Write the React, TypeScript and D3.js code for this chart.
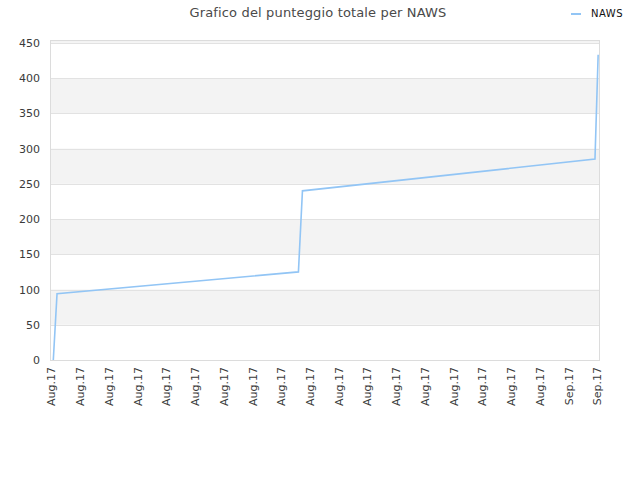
import * as React from 'react';
import * as d3 from 'd3';

const TITLE = 'Grafico del punteggio totale per NAWS';
const SERIES_NAME = 'NAWS';

const TICK_LABELS = [
    'Aug.17', 'Aug.17', 'Aug.17', 'Aug.17', 'Aug.17',
    'Aug.17', 'Aug.17', 'Aug.17', 'Aug.17', 'Aug.17',
    'Aug.17', 'Aug.17', 'Aug.17', 'Aug.17', 'Aug.17',
    'Aug.17', 'Aug.17', 'Aug.17', 'Sep.17', 'Sep.17'
];

// sample index (labels every 10 samples) and total score
const SAMPLE = [0.8, 2.1, 86.1, 87.5, 189.3, 190.4];
const SCORE = [0, 94, 125, 240, 285, 433];

const Y_TICKS = [0, 50, 100, 150, 200, 250, 300, 350, 400, 450];

const FONT = '"DejaVu Sans", Verdana, sans-serif';

const App: React.FC = () => {
    const svgRef = React.useRef<SVGSVGElement>(null);

    React.useEffect(() => {
        const WIDTH = 640;
        const HEIGHT = 480;
        const PLOT = { left: 51, right: 600, top: 40, bottom: 360 };

        const svg = d3.select(svgRef.current);
        svg.selectAll('*').remove();

        svg.append('rect').attr('width', WIDTH).attr('height', HEIGHT).attr('fill', '#fff');

        const xScale = d3
            .scaleLinear()
            .domain([0, (TICK_LABELS.length - 1) * 10])
            .range([51, 597]);
        const yScale = d3.scaleLinear().domain([0, 454]).range([PLOT.bottom, PLOT.top]);

        /** ******** Bands & grid ********* */
        const bands = d3.range(50, 500, 100);
        svg.append('g')
            .selectAll('rect')
            .data(bands)
            .enter()
            .append('rect')
            .attr('x', PLOT.left)
            .attr('width', PLOT.right - PLOT.left)
            .attr('y', (d) => yScale(Math.min(d + 50, 454)))
            .attr('height', (d) => yScale(d) - yScale(Math.min(d + 50, 454)))
            .attr('fill', '#f3f3f3');

        svg.append('g')
            .selectAll('line')
            .data(Y_TICKS.slice(1))
            .enter()
            .append('line')
            .attr('x1', PLOT.left)
            .attr('x2', PLOT.right)
            .attr('y1', (d) => Math.round(yScale(d)) + 0.5)
            .attr('y2', (d) => Math.round(yScale(d)) + 0.5)
            .attr('stroke', '#e2e2e2');

        // frame
        svg.append('rect')
            .attr('x', PLOT.left - 0.5)
            .attr('y', PLOT.top + 0.5)
            .attr('width', PLOT.right - PLOT.left)
            .attr('height', PLOT.bottom - PLOT.top)
            .attr('fill', 'none')
            .attr('stroke', '#dcdcdc');

        /** ******** Axis ********* */
        const yAxis = d3.axisLeft(yScale).tickValues(Y_TICKS).tickSize(0).tickPadding(11);
        const yAxisDom = svg.append('g').attr('transform', `translate(${PLOT.left},0)`).call(yAxis);
        yAxisDom.select('.domain').remove();
        yAxisDom
            .selectAll('text')
            .attr('font-family', FONT)
            .attr('font-size', 11)
            .attr('fill', '#3a3a3a');

        const xTicks = d3.range(TICK_LABELS.length).map((i) => i * 10);
        const xAxis = d3
            .axisBottom(xScale)
            .tickValues(xTicks)
            .tickSize(0)
            .tickFormat((_, i) => TICK_LABELS[i]);
        const xAxisDom = svg.append('g').attr('transform', `translate(0,${PLOT.bottom})`).call(xAxis);
        xAxisDom.select('.domain').remove();
        xAxisDom
            .selectAll('text')
            .attr('font-family', FONT)
            .attr('font-size', 11)
            .attr('fill', '#3a3a3a')
            .attr('text-anchor', 'end')
            .attr('dy', '0.35em')
            .attr('transform', 'translate(0,7) rotate(-90)')
            .attr('x', 0)
            .attr('y', 0);

        /** ******** Line ********* */
        const points = SAMPLE.map((s, i) => [s, SCORE[i]] as [number, number]);
        const line = d3
            .line<[number, number]>()
            .x((d) => xScale(d[0]))
            .y((d) => yScale(d[1]));
        svg.append('path')
            .datum(points)
            .attr('d', line)
            .attr('fill', 'none')
            .attr('stroke', '#92c5f5')
            .attr('stroke-width', 1.6);

        /** ******** Title & legend ********* */
        svg.append('text')
            .attr('x', 318)
            .attr('y', 17)
            .attr('text-anchor', 'middle')
            .attr('font-family', FONT)
            .attr('font-size', 13)
            .attr('letter-spacing', 0.15)
            .attr('fill', '#4a4a4a')
            .text(TITLE);

        svg.append('line')
            .attr('x1', 571)
            .attr('x2', 581)
            .attr('y1', 14)
            .attr('y2', 14)
            .attr('stroke', '#92c5f5')
            .attr('stroke-width', 2);
        svg.append('text')
            .attr('x', 591)
            .attr('y', 17)
            .attr('font-family', FONT)
            .attr('font-size', 10)
            .attr('letter-spacing', 0.5)
            .attr('fill', '#111')
            .text(SERIES_NAME);
    });

    return (
        <svg
            ref={svgRef}
            width={640}
            height={480}
            style={{ position: 'absolute', left: 0, top: 0, display: 'block' }}
        />
    );
};

export default App;
